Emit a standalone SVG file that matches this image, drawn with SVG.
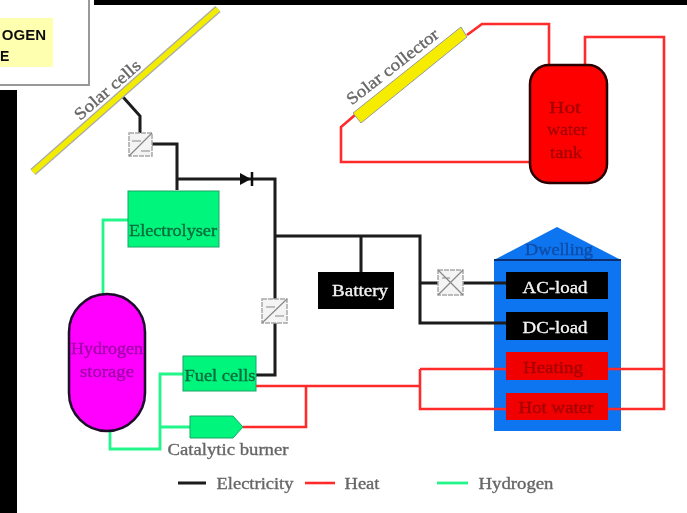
<svg xmlns="http://www.w3.org/2000/svg" width="687" height="513" viewBox="0 0 687 513">
<defs>
<filter id="soft" x="-5%" y="-5%" width="110%" height="110%"><feGaussianBlur stdDeviation="0.6"/></filter>
</defs>
<style>
.e{fill:none;stroke:#1c1c1c;stroke-width:3}
.h{fill:none;stroke:#ff2a2a;stroke-width:2.6}
.g{fill:none;stroke:#22f58a;stroke-width:2.8}
.t{font-family:"Liberation Serif",serif;font-size:17px;text-anchor:middle;stroke-width:.35}
.lab{fill:#666;stroke:#666}
.dark{fill:#0a6a3c;stroke:#0a6a3c}
.w{fill:#f4f4f4;stroke:#f4f4f4}
.m{fill:#a000a8;stroke:#a000a8}
.r{fill:#a80000;stroke:#a80000}
.conv{fill:#f4f4f4;stroke:#a8a8a8;stroke-width:1.5;stroke-dasharray:5 1}
.cd{fill:none;stroke:#888;stroke-width:1.2}
</style>
<rect width="687" height="513" fill="#fff"/>
<g filter="url(#soft)">
<rect x="94" y="0" width="593" height="5" fill="#000"/>
<rect x="0" y="90" width="17" height="423" fill="#000"/>
<g id="title">
<rect x="-2" y="-2" width="91" height="87" fill="#fff" stroke="#999" stroke-width="2"/>
<rect x="0" y="18" width="53" height="49" fill="#ffffb0"/>
<text x="46" y="40" text-anchor="end" font-family="Liberation Sans,sans-serif" font-weight="700" font-size="15" fill="#111">OGEN</text>
<text x="0" y="61" font-family="Liberation Sans,sans-serif" font-weight="700" font-size="14" fill="#111">E</text>
</g>
<g id="dwelling">
<path d="M494 260L557 227L621 260V431H494Z" fill="#0a74f0"/>
<path d="M494 260H621" stroke="#0a2f70" stroke-width="2"/>
<text class="t" style="fill:#0b4da8;stroke:#0b4da8" x="559" y="255" textLength="68" lengthAdjust="spacingAndGlyphs">Dwelling</text>
</g>
<g id="connectors">
<path class="e" d="M123 97L140 116V133M152 144H177V190M177 179H275V375H256M275 236H420V323H506M361 236V272M420 283H506"/>
<path class="h" d="M256 386H420M420 369H506M420 369V409H506M306 386V427H243M608 369H664M608 409H664V37H585V65M467 35L482 24H549V65M355 115L341 127V162H530"/>
<path class="g" d="M103 297V220H128M110 431V449H160V374H183M160 427H190"/>
<path d="M240 173L251 179L240 185Z" fill="#111"/><path d="M252 172V186" stroke="#111" stroke-width="2.5"/>
</g>
<g id="solar-cells">
<path d="M33 172L218 9" stroke="#aaa" stroke-width="8"/>
<path d="M33 172L218 9" stroke="#f2ec00" stroke-width="5.5"/>
<text class="t lab" transform="translate(111 94) rotate(-41)" textLength="82" lengthAdjust="spacingAndGlyphs">Solar cells</text>
</g>
<g id="converter-1"><rect class="conv" x="129" y="133" width="23" height="23"/><path class="cd" d="M129 156L152 133M132 141H141M141 151H150"/></g>
<g id="electrolyser"><rect x="128" y="191" width="91" height="56" fill="#00f57c" stroke="#13a565" stroke-width="1"/><text class="t dark" x="173" y="236" textLength="88" lengthAdjust="spacingAndGlyphs">Electrolyser</text></g>
<g id="hydrogen-storage"><rect x="69" y="294" width="76" height="137" rx="38" fill="#ff00ff" stroke="#1c0a2a" stroke-width="2.5"/><text class="t m" x="107" y="354" textLength="72" lengthAdjust="spacingAndGlyphs">Hydrogen</text><text class="t m" x="107" y="377" textLength="54" lengthAdjust="spacingAndGlyphs">storage</text></g>
<g id="converter-2"><rect class="conv" x="262" y="299" width="25" height="24"/><path class="cd" d="M262 323L287 299M266 307H275M275 316H284"/></g>
<g id="fuel-cells"><rect x="183" y="356" width="73" height="35" fill="#00f57c" stroke="#13a565" stroke-width="1"/><text class="t dark" x="220" y="381" textLength="71" lengthAdjust="spacingAndGlyphs">Fuel cells</text></g>
<g id="catalytic-burner"><path d="M190 416H233L243 427L233 438H190Z" fill="#00f57c" stroke="#13a565" stroke-width="1"/><text class="t lab" x="228" y="455" textLength="121" lengthAdjust="spacingAndGlyphs">Catalytic burner</text></g>
<g id="battery"><rect x="318" y="272" width="76" height="37" fill="#000"/><text class="t w" x="360" y="296" textLength="56" lengthAdjust="spacingAndGlyphs">Battery</text></g>
<g id="converter-3"><rect class="conv" x="438" y="270" width="25" height="25"/><path class="cd" d="M438 295L463 270M438 270L463 295M442 278H450"/></g>
<g id="solar-collector">
<path d="M461 27L467 37L361 123L353 113Z" fill="#f5ec00" stroke="#999" stroke-width="1"/>
<text class="t lab" transform="translate(396 71) rotate(-38)" textLength="112" lengthAdjust="spacingAndGlyphs">Solar collector</text>
</g>
<g id="hot-water-tank"><rect x="530" y="65" width="77" height="118" rx="19" fill="#ff0000" stroke="#2a0505" stroke-width="2.5"/><text class="t r" x="565" y="113" textLength="32" lengthAdjust="spacingAndGlyphs">Hot</text><text class="t r" x="567" y="135" textLength="40" lengthAdjust="spacingAndGlyphs">water</text><text class="t r" x="566" y="158" textLength="32" lengthAdjust="spacingAndGlyphs">tank</text></g>
<g id="ac-load"><rect x="506" y="272" width="102" height="27" fill="#000"/><text class="t w" x="555" y="293" textLength="65" lengthAdjust="spacingAndGlyphs">AC-load</text></g>
<g id="dc-load"><rect x="506" y="312" width="102" height="28" fill="#000"/><text class="t w" x="555" y="333" textLength="65" lengthAdjust="spacingAndGlyphs">DC-load</text></g>
<g id="heating"><rect x="506" y="352" width="102" height="28" fill="#f00000"/><text class="t r" x="553" y="373" textLength="60" lengthAdjust="spacingAndGlyphs">Heating</text></g>
<g id="hot-water"><rect x="506" y="393" width="102" height="27" fill="#f00000"/><text class="t r" x="556" y="413" textLength="75" lengthAdjust="spacingAndGlyphs">Hot water</text></g>
<g id="legend">
<path class="e" d="M178 483H206"/><text class="t lab" x="255" y="489" textLength="77" lengthAdjust="spacingAndGlyphs">Electricity</text>
<path class="h" d="M305 483H335"/><text class="t lab" x="362" y="489" textLength="35" lengthAdjust="spacingAndGlyphs">Heat</text>
<path class="g" d="M437 483H468"/><text class="t lab" x="516" y="489" textLength="75" lengthAdjust="spacingAndGlyphs">Hydrogen</text>
</g>
</g>
</svg>
